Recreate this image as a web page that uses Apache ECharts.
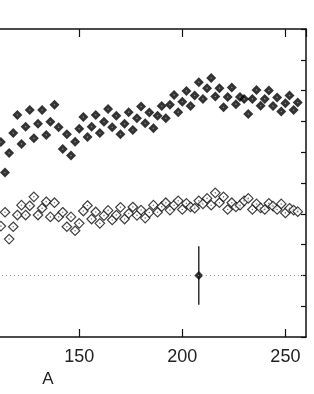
<!DOCTYPE html>
<html><head><meta charset="utf-8">
<script src="https://cdn.jsdelivr.net/npm/echarts@6/dist/echarts.min.js"></script>
<style>html,body{margin:0;padding:0;background:#fff}#c{width:314px;height:394px}</style>
</head><body><div id="c"></div>
<script>
// mass number A
const massA = [112,114,116,118,120,122,124,126,128,130,132,134,136,138,140,142,144,146,148,150,
  152,154,156,158,160,162,164,166,168,170,172,174,176,178,180,182,184,186,188,190,
  192,194,196,198,200,202,204,206,208,210,212,214,216,218,220,222,224,226,228,230,
  232,234,236,238,240,242,244,246,248,250,252,254,256];
// filled diamonds
const filledVals = [6.33,5.34,5.97,6.62,7.21,6.27,6.83,7.37,6.45,6.92,7.37,6.56,6.99,7.54,6.81,6.10,6.58,5.89,6.34,6.76,
  7.14,6.49,6.83,7.21,6.62,6.99,7.40,6.81,7.18,6.58,6.92,7.30,6.72,7.10,7.48,6.94,7.29,6.78,7.18,7.50,
  7.10,7.54,7.86,7.30,7.64,7.99,7.50,7.84,8.27,7.73,8.08,8.41,7.81,8.08,7.46,7.79,8.10,7.56,7.79,7.73,
  7.24,7.73,8.02,7.51,7.73,8.00,7.50,7.78,7.32,7.59,7.84,7.37,7.61];
// open diamonds
const openVals = [3.60,4.05,3.18,3.58,3.96,4.28,3.96,4.26,4.55,3.96,4.18,4.39,3.90,4.36,3.90,4.05,3.58,3.90,3.45,3.69,
  4.09,4.27,3.83,4.06,3.69,3.94,4.11,3.80,3.96,4.21,3.83,4.01,4.22,3.95,4.12,3.86,4.04,4.28,4.05,4.23,
  4.36,4.12,4.28,4.42,4.14,4.34,4.22,4.18,4.42,4.32,4.50,4.28,4.68,4.36,4.55,4.14,4.36,4.22,4.28,4.42,
  4.50,4.14,4.32,4.19,4.14,4.34,4.25,4.14,4.32,4.03,4.18,4.12,4.07];
// representative error bar point
const errA = [208];
const errY = [2];
const errHalf = [0.95];
const refLineY = 2;

const ink = '#111';
const font = 'Liberation Sans';
const chart = echarts.init(document.getElementById('c'));
const axisCommon = {
  type: 'value', splitLine: {show: false},
  axisLine: {show: true, onZero: false, lineStyle: {color: ink, width: 1.5}},
  axisTick: {show: true, inside: true, length: 8, lineStyle: {color: ink, width: 1.2}}
};
chart.setOption({
  animation: false,
  backgroundColor: '#fff',
  grid: {left: -230, right: 8, top: 29, bottom: 57, containLabel: false, outerBoundsMode: 'none'},
  xAxis: [
    Object.assign({}, axisCommon, {
      min: 0, max: 260, interval: 50, position: 'bottom',
      axisLabel: {show: true, fontSize: 18, color: '#222', fontFamily: font, margin: 11, showMaxLabel: false},
      name: 'A', nameLocation: 'middle', nameGap: 32,
      nameTextStyle: {fontSize: 17, color: '#222', fontFamily: font, padding: [0, 0, 0, 20]}
    }),
    Object.assign({}, axisCommon, {
      min: 0, max: 260, interval: 50, position: 'top',
      axisLabel: {show: false}
    })
  ],
  yAxis: [
    Object.assign({}, axisCommon, {min: 0, max: 10, interval: 1, position: 'left', axisLabel: {show: false}}),
    Object.assign({}, axisCommon, {min: 0, max: 10, interval: 1, position: 'right', axisLabel: {show: false},
      axisTick: {show: true, inside: true, length: 5, lineStyle: {color: ink, width: 1.2}}})
  ],
  series: [
    {
      type: 'line', data: [], xAxisIndex: 0, yAxisIndex: 0,
      markLine: {silent: true, symbol: 'none', label: {show: false},
        lineStyle: {type: [1, 3], color: '#999', width: 1},
        data: [{yAxis: refLineY}]}
    },
    {
      type: 'scatter', symbol: 'diamond', symbolSize: 9.5,
      data: massA.map((a, i) => [a, openVals[i]]),
      itemStyle: {color: '#fff', borderColor: ink, borderWidth: 1.2}
    },
    {
      type: 'scatter', symbol: 'circle', symbolSize: 1.6,
      data: massA.map((a, i) => [a, openVals[i]]),
      itemStyle: {color: '#555'}
    },
    {
      type: 'scatter', symbol: 'diamond', symbolSize: 10,
      data: massA.map((a, i) => [a, filledVals[i]]),
      itemStyle: {color: '#000'}
    },
    {
      type: 'scatter', symbol: 'circle', symbolSize: 1.6,
      data: massA.map((a, i) => [a, filledVals[i]]),
      itemStyle: {color: '#999'}
    },
    {
      type: 'line', showSymbol: false,
      data: [[errA[0], errY[0] - errHalf[0]], [errA[0], errY[0] + errHalf[0]]],
      lineStyle: {color: ink, width: 1.3}
    },
    {
      type: 'scatter', symbol: 'diamond', symbolSize: 9,
      data: [[errA[0], errY[0]]],
      itemStyle: {color: '#000'}
    }
  ]
});
</script>
</body></html>
